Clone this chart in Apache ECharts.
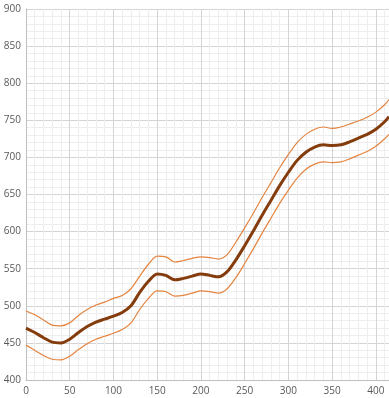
<!DOCTYPE html>
<html>
<head>
<meta charset="utf-8">
<script src="https://cdn.jsdelivr.net/npm/echarts@6/dist/echarts.min.js"></script>
<style>html,body{margin:0;padding:0;background:#fff}#c{width:389px;height:398px}</style>
</head>
<body>
<div id="c"></div>
<script>
const xs = [0,10,20,30,40,50,60,70,80,90,100,110,120,130,140,150,160,170,180,190,200,210,220,230,240,250,260,270,280,290,300,310,320,330,340,350,360,370,380,390,400,410,415];
const mean = [470,464,457,451,450,455,464,472,478,482,486,491,500,518,533,543,541,535,537,540,543,541,539,546,562,581,601,622,642,662,680,696,707,714,717,716,717,721,726,731,738,748,755];
const upper = [493,488,481,474,473,477,487,495,501,505,510,514,523,540,556,567,566,559,561,564,566,565,563,569,586,605,625,646,666,686,704,720,731,738,741,739,741,745,749,754,761,771,778];
const lower = [447,440,433,428,427,432,441,449,455,459,463,468,477,495,510,520,519,513,514,517,520,519,517,523,538,557,577,598,618,638,656,672,684,691,694,693,694,698,703,708,715,725,731];
const xTicks = {min:0, max:415, interval:50};
const yTicks = {min:400, max:900, interval:50};

const pairs = arr => xs.map((x,i)=>[x, arr[i]]);
const chart = echarts.init(document.getElementById('c'), null, {renderer:'canvas'});
const axisCommon = {
  axisLine:{show:true, lineStyle:{color:'#bfbfbf', width:1}},
  axisTick:{show:false},
  axisLabel:{color:'#595959', fontSize:10, fontFamily:'Open Sans'},
  splitLine:{show:true, lineStyle:{color:'#d4d4d4', width:1}},
  minorTick:{show:false, splitNumber:5},
  minorSplitLine:{show:true, lineStyle:{color:'#eeeeee', width:1}}
};
chart.setOption({
  animation:false,
  grid:{left:26, right:0, top:9, bottom:18, containLabel:false},
  xAxis:Object.assign({type:'value', min:xTicks.min, max:xTicks.max, interval:xTicks.interval}, axisCommon,
    {axisLabel:Object.assign({}, axisCommon.axisLabel, {showMaxLabel:false, margin:6})}),
  yAxis:Object.assign({type:'value', min:yTicks.min, max:yTicks.max, interval:yTicks.interval}, axisCommon,
    {axisLabel:Object.assign({}, axisCommon.axisLabel, {margin:5})}),
  series:[
    {type:'line', data:pairs(upper), smooth:0.3, symbol:'none', lineStyle:{color:'#e5843f', width:1.2}},
    {type:'line', data:pairs(lower), smooth:0.3, symbol:'none', lineStyle:{color:'#e5843f', width:1.2}},
    {type:'line', data:pairs(mean), smooth:0.3, symbol:'none', lineStyle:{color:'#843c0c', width:3}}
  ]
});
</script>
</body>
</html>
